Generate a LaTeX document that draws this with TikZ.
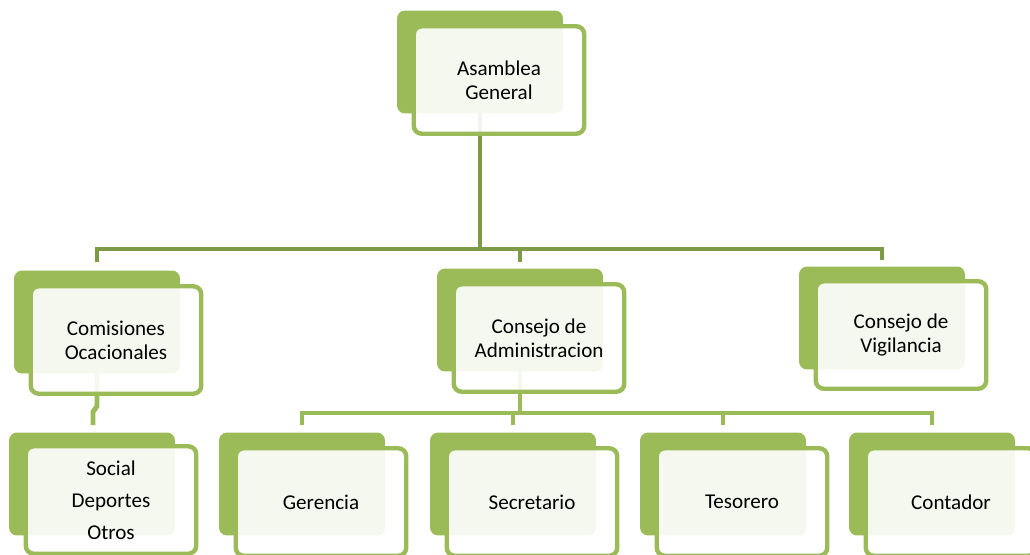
\documentclass[tikz,border=0pt]{standalone}
\usepackage{fontspec}
\setmainfont{Carlito}
\usepackage{xcolor}
\usepackage{tikz}
\usetikzlibrary{positioning, calc, backgrounds}
\definecolor{leaf}{HTML}{9BBB59}
\definecolor{olive}{HTML}{7E9A47}

\begin{document}
\begin{tikzpicture}[
    x=0.02cm, y=-0.02cm,
    back/.style={rectangle, rounded corners=0.16cm, fill=leaf, draw=none,
                 minimum width=3.32cm, minimum height=2.06cm, inner sep=0pt},
    front/.style={rectangle, rounded corners=0.16cm, draw=leaf, line width=2.5pt,
                  fill=white, fill opacity=0.9, text opacity=1,
                  minimum width=3.41cm, minimum height=2.15cm, align=center,
                  font=\fontsize{12}{13.6}\selectfont},
    upline/.style={draw=olive, line width=2.8pt},
    lowline/.style={draw=leaf, line width=2.8pt}
]
    \useasboundingbox (0,0) rectangle (1030,554);
    \clip (0,0) rectangle (1030,554);

    % Top level
    \node[back] (asB) at (480,62) {};
    \node[front] (asF) at (499,80) {Asamblea\\General};

    % Second level
    \node[back] (coB) at (97,322) {};
    \node[front] (coF) at (116,340) {Comisiones\\Ocacionales};
    \node[back] (caB) at (520,320) {};
    \node[front] (caF) at (539,338) {Consejo de\\Administracion};
    \node[back] (viB) at (882,318) {};
    \node[front] (viF) at (901,335) {Consejo de\\Vigilancia};

    % Third level
    \node[back] (soB) at (92,484) {};
    \node[front] (soF) at (111,500) {Social\\[4.5pt]Deportes\\[4.5pt]Otros};
    \node[back] (geB) at (302,484) {};
    \node[front] (geF) at (321,502) {Gerencia};
    \node[back] (seB) at (513,484) {};
    \node[front] (seF) at (532,502) {Secretario};
    \node[back] (teB) at (723,484) {};
    \node[front] (teF) at (742,502) {Tesorero};
    \node[back] (ctB) at (932,484) {};
    \node[front] (ctF) at (951,502) {Contador};

    \coordinate (busT) at (480,249);
    \coordinate (busL) at (520,413);

    % Connectors behind the boxes
    \begin{scope}[on background layer]
        \draw[upline] (asB.center) -- (busT);
        \draw[upline] ($(coB.north)+(0,-8)$) |- (busT) -| ($(viB.north)+(0,-6)$);
        \draw[upline] (busT -| caB.north) -- ($(caB.north)+(0,-6)$);

        \draw[lowline] (caB.center) -- (busL);
        \draw[lowline] ($(geB.north)+(0,-7)$) |- (busL) -| ($(ctB.north)+(0,-7)$);
        \draw[lowline] (busL -| seB.north) -- ($(seB.north)+(0,-7)$);
        \draw[lowline] (busL -| teB.north) -- ($(teB.north)+(0,-7)$);

        \draw[lowline] (coB.center) -- ++(0,84) -- ++(-4,6) -- ($(soB.north)+(1,-7)$);
    \end{scope}
\end{tikzpicture}
\end{document}
